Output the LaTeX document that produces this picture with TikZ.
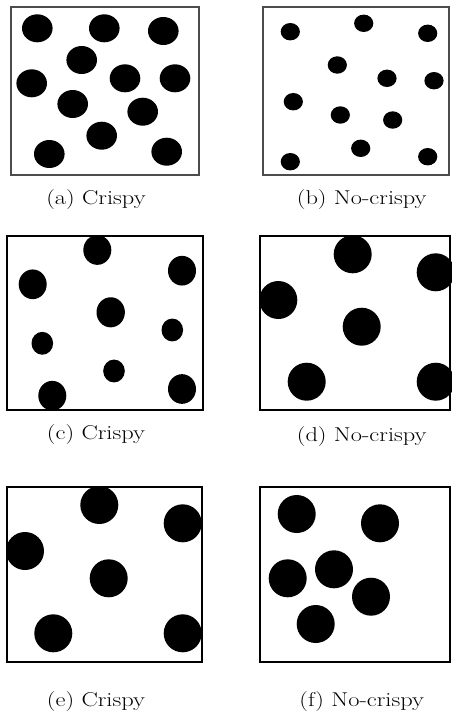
\documentclass[tikz,border=0pt]{standalone}
\begin{document}
\begin{tikzpicture}[x=1pt,y=-1pt,
  panelA/.style={draw=black!70,line width=1.8pt},
  panel/.style={draw=black,line width=1.4pt},
  dot/.style={fill=black},
  captext/.style={inner sep=0pt,font=\fontsize{20}{22}\selectfont}]
\useasboundingbox[fill=white] (0,0) rectangle (451,715);
% (a)
\draw[panelA] (11,7) rectangle (199,175);
\foreach \x/\y in {37.3/28.3,104.3/28.3,163.3/31,81.7/60,31.7/83.3,125/78.3,175/78.3,72.7/104,142.7/111.7,101.7/135.7,49.3/154,166.7/151.7}
  \fill[dot] (\x,\y) ellipse [x radius=15.3, y radius=14];
\node[captext] (capa) at (96,200) {\scalebox{1.22}[1]{(a) Crispy}};
% (b)
\draw[panelA] (263,7) rectangle (449,175);
\foreach \x/\y in {290.3/31.7,363.7/23.3,427.7/33.3,337.3/65,387/78.3,434/80.7,293.3/101.7,340.3/115,392.7/120,360.7/148.3,427.7/156.7,290.3/161.7}
  \fill[dot] (\x,\y) ellipse [x radius=9.6, y radius=8.7];
\node[captext] (capb) at (361.7,200) {\scalebox{1.22}[1]{(b) No-crispy}};
% (c)
\draw[panel] (7,236) rectangle (203,410);
\foreach \x/\y/\r in {97.3/250/14,32.7/284.3/14,182/270.7/14,110.7/312.3/14.2,172.3/330/10.8,42.3/343.3/10.8,114/371/10.8,52.3/395.7/14,182/389/14}
  \fill[dot] (\x,\y) ellipse [x radius=\r, y radius=1.06*\r];
\node[captext] (capc) at (96,435) {\scalebox{1.22}[1]{(c) Crispy}};
% (d)
\draw[panel] (260,236) rectangle (450,410);
\foreach \x/\y in {352.7/254.3,435.7/272.3,278.3/300,361.7/326.7,306.7/381.7,435.7/381.7}
  \fill[dot] (\x,\y) circle [radius=19];
\node[captext] (capd) at (361.7,436.7) {\scalebox{1.22}[1]{(d) No-crispy}};
% (e)
\draw[panel] (7,487) rectangle (202,662);
\foreach \x/\y in {99.3/505,182.7/523.3,25/551,108.7/578.3,53.3/633.3,182.7/633.3}
  \fill[dot] (\x,\y) circle [radius=19];
\node[captext] (cape) at (96,701.7) {\scalebox{1.22}[1]{(e) Crispy}};
% (f)
\draw[panel] (260,487) rectangle (450,662);
\foreach \x/\y in {296.7/514,380/523.3,287.7/578.3,334/569.3,371/596.7,315.7/624}
  \fill[dot] (\x,\y) circle [radius=19];
\node[captext] (capf) at (361.7,701.7) {\scalebox{1.22}[1]{(f) No-crispy}};
\end{tikzpicture}
\end{document}
